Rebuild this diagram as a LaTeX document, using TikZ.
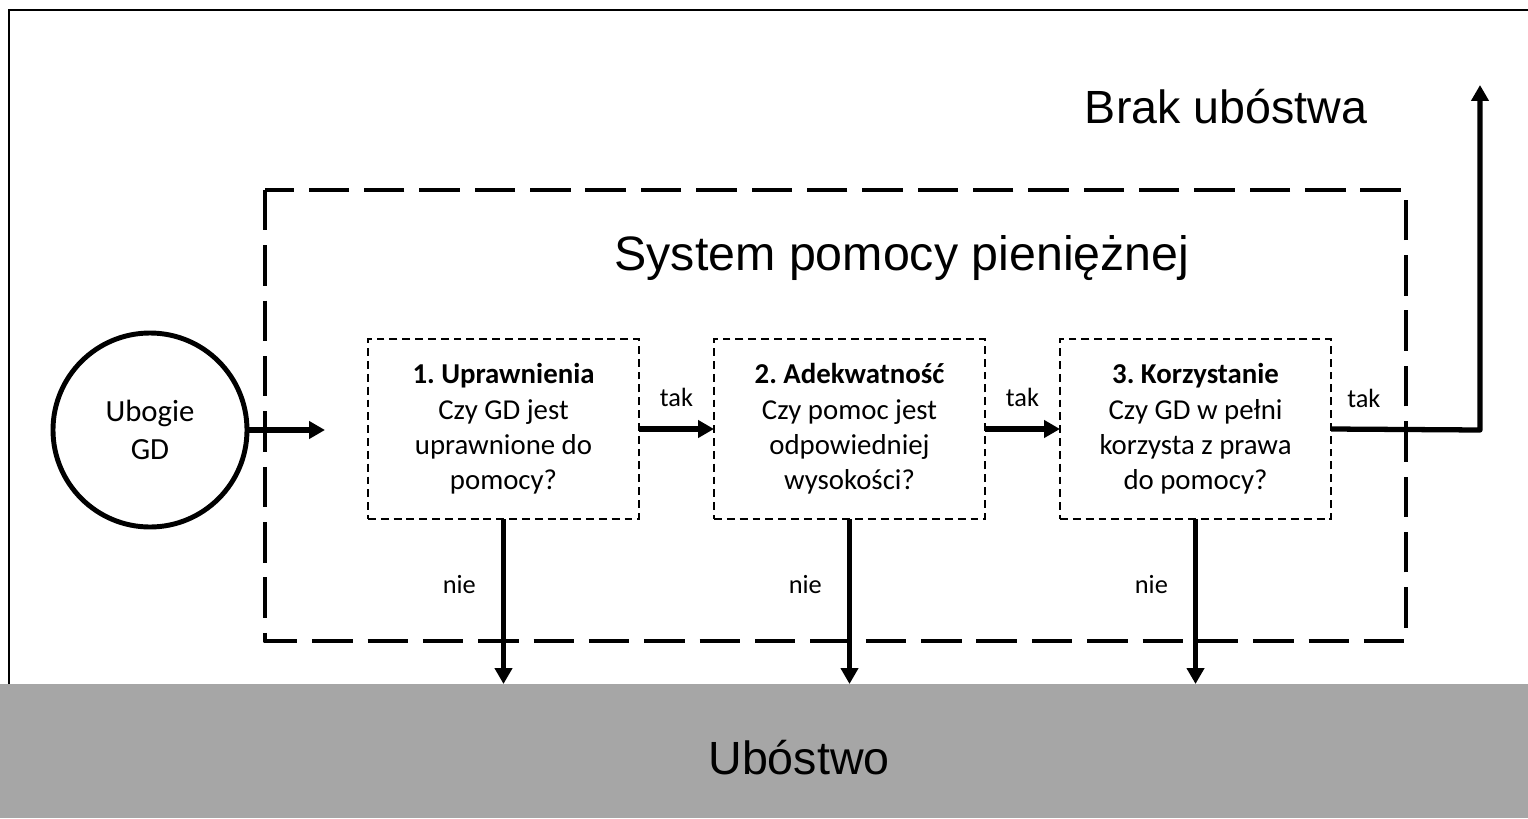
\documentclass[tikz,border=0pt]{standalone}
\usepackage{fontspec}
\setmainfont{Carlito}
\newfontfamily\arialfont{Liberation Sans}
\usetikzlibrary{positioning, arrows.meta}
\definecolor{bandgray}{RGB}{166,166,166}
\frenchspacing

\begin{document}
\begin{tikzpicture}[
    x=0.2mm, y=-0.2mm,
    every node/.style={inner sep=0pt},
    stepbox/.style={draw, line width=1.5pt, dash pattern=on 4.5pt off 2.8pt, outer sep=0pt, minimum width=54.2mm, minimum height=36mm, align=center, font=\fontsize{16.4}{20.1}\selectfont},
    flow/.style={line width=3pt, line join=round, -{Triangle[length=9pt, width=9.6pt]}},
    answer/.style={font=\fontsize{15}{18}\selectfont},
    bigtext/.style={font=\arialfont\fontsize{26.5}{32}\selectfont, anchor=base}
]
    \useasboundingbox (0,0) rectangle (1528,818);

    % Outer frame (left and top only)
    \draw[line width=1.5pt] (9,684) -- (9,10) -- (1528,10);

    % Poverty band at the bottom
    \node[fill=bandgray, outer sep=0pt, minimum width=305.6mm, minimum height=26.8mm, anchor=north west] (band) at (0,684) {};
    \node[bigtext] (poverty) at (799,774) {Ubóstwo};

    % System boundary
    \draw[line width=2.8pt, dash pattern=on 23pt off 8.5pt, line join=round] (265,190) rectangle (1406,641);
    \node[bigtext, font=\arialfont\fontsize{27.5}{33}\selectfont] (system) at (902,270) {System pomocy pieniężnej};
    \node[bigtext] (nopoverty) at (1226,123) {Brak ubóstwa};

    % Household
    \node[circle, draw, line width=2.8pt, minimum size=38.8mm, align=center, font=\fontsize{17.5}{21.5}\selectfont] (gd) at (150,430) {Ubogie\\GD};
    \coordinate (entry) at (325,430);
    \draw[flow] (gd.east) -- (entry);

    % Three steps
    \node[stepbox] (step1) at (503.5,429) {\textbf{1. Uprawnienia}\\Czy GD jest\\uprawnione do\\pomocy?};
    \node[stepbox, right=15mm of step1] (step2) {\textbf{2. Adekwatność}\\Czy pomoc jest\\odpowiedniej\\wysokości?};
    \node[stepbox, right=15mm of step2] (step3) {\textbf{3. Korzystanie}\\Czy GD w pełni\\korzysta z prawa\\do pomocy?};

    % Yes branches
    \draw[flow] (step1.east) -- node[answer, above=11pt] (tak1) {tak} (step2.west);
    \draw[flow] (step2.east) -- node[answer, above=11pt] (tak2) {tak} (step3.west);
    \coordinate (turn) at (1480,430);
    \coordinate (exit) at (1480,85);
    \draw[flow] (step3.east) -- node[answer, above=11pt, pos=0.22] (tak3) {tak} (turn) -- (exit);

    % No branches
    \foreach \i in {1,2,3} {
        \draw[flow] (step\i.south) -- node[answer, left=5mm, pos=0.4] (nie\i) {nie} (step\i.south |- band.north);
    }
\end{tikzpicture}
\end{document}
